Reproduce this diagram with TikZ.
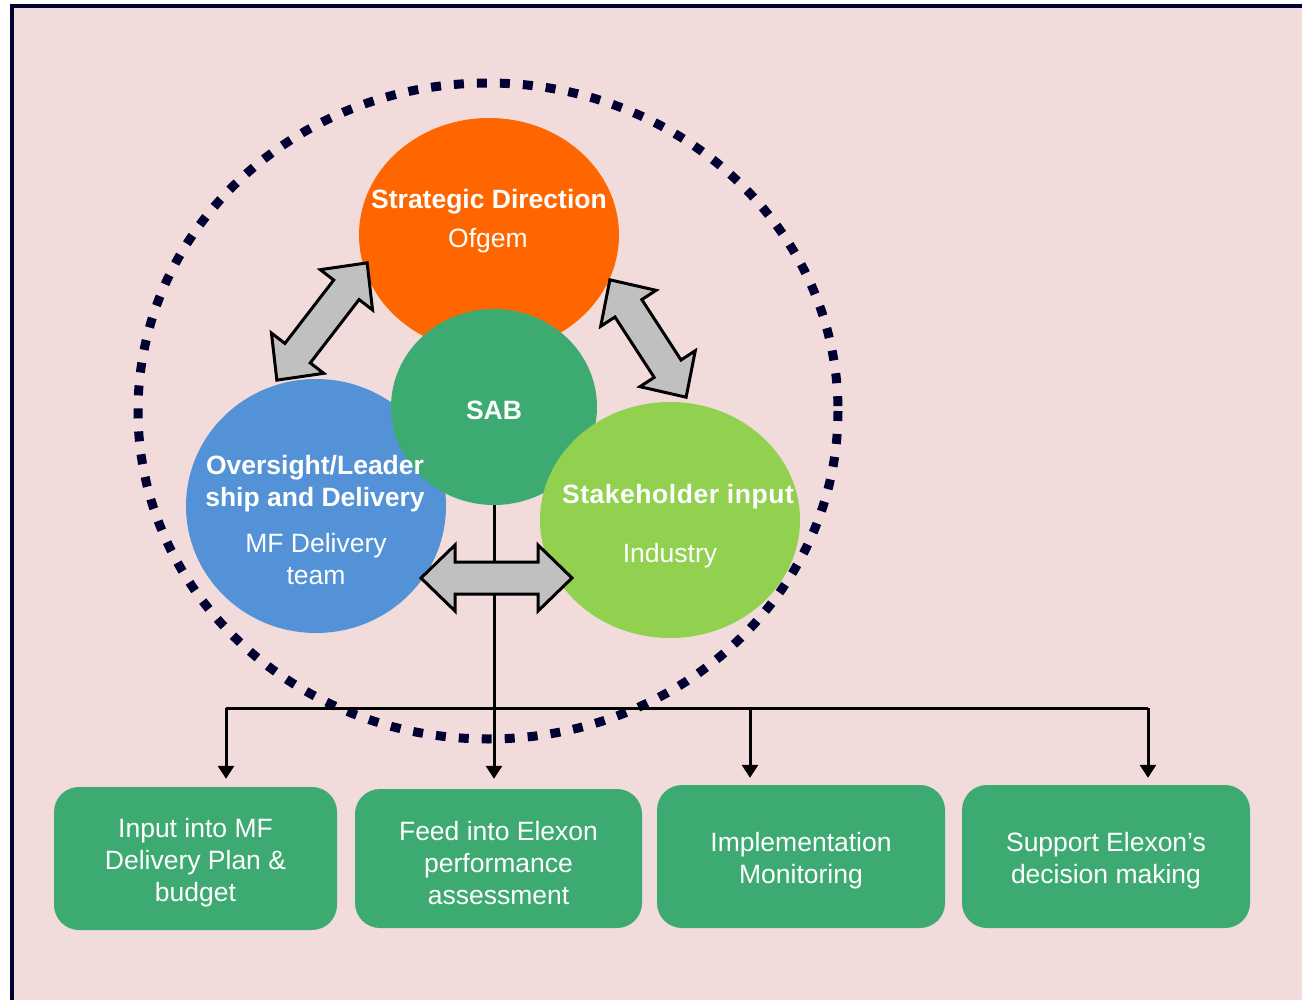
\documentclass[tikz,border=0pt]{standalone}
\usepackage{fontspec}
\setmainfont{Liberation Sans}
\usetikzlibrary{arrows.meta,shapes.geometric}
\definecolor{pinkbg}{RGB}{242,220,219}
\definecolor{navy}{RGB}{0,0,51}
\definecolor{orng}{RGB}{255,102,0}
\definecolor{sabgreen}{RGB}{60,170,113}
\definecolor{skyblue}{RGB}{83,146,214}
\definecolor{limegreen}{RGB}{146,208,80}
\definecolor{arrowgray}{RGB}{192,192,192}

\begin{document}
\begin{tikzpicture}[x=1pt,y=-1pt,
  blob/.style={ellipse, inner sep=0pt, draw=none},
  txt/.style={text=white, font=\fontsize{26.5}{32}\selectfont, align=center, inner sep=0pt},
  btxt/.style={text=white, font=\fontsize{26.5}{32}\selectfont\bfseries, align=center, inner sep=0pt},
  outcome/.style={rounded corners=25pt, fill=sabgreen, inner sep=0pt},
  outtxt/.style={txt, yshift=-4.5pt},
  link/.style={line width=3pt, draw=black},
  linkarrow/.style={link, -{Triangle[length=13pt,width=16pt]}},
  dblarrow/.pic={
    \draw[line width=3pt, fill=arrowgray, line join=miter, miter limit=10]
      (-#1,0) -- ({-#1+34},-33) -- ({-#1+34},-16) -- ({#1-34},-16)
      -- ({#1-34},-33) -- (#1,0) -- ({#1-34},33) -- ({#1-34},16)
      -- ({-#1+34},16) -- ({-#1+34},33) -- cycle;
  }
]
\useasboundingbox (0,0) rectangle (1302,1000);
\fill[white] (0,0) rectangle (1302,1000);
% framed pink panel
\draw[navy, line width=4pt, fill=pinkbg] (12,6) rectangle (1330,1030);

% dotted boundary of the governance circle
\draw[navy, line width=9pt, dash pattern=on 10pt off 13pt]
  (488,411) ellipse [x radius=350, y radius=328];

% circles
\node[blob, fill=orng, minimum width=260pt, minimum height=234pt] (ofgem) at (489,235) {};
\node[blob, fill=skyblue, minimum width=260pt, minimum height=254pt] (delivery) at (316,506) {};
\node[blob, fill=sabgreen, minimum width=206pt, minimum height=196pt] (sab) at (494,407) {};
\node[blob, fill=limegreen, minimum width=260pt, minimum height=236pt] (industry) at (670,520) {};

% circle labels
\node[btxt] (ofgemT) at (489,202) {Strategic Direction};
\node[txt] (ofgemS) at (488,241) {Ofgem};
\node[btxt] (sabT) at (494,410) {SAB};
\node[btxt] (delivT) at (315,484) {Oversight/Leader\\ship and Delivery};
\node[txt] (delivS) at (316,559) {MF Delivery\\team};
\node[btxt, font=\fontsize{26.5}{32}\selectfont\bfseries\addfontfeature{LetterSpace=2}] (indT) at (678,497) {Stakeholder input};
\node[txt] (indS) at (670,556) {Industry};

% outcome boxes
\node[outcome, minimum width=283pt, minimum height=143pt] (box1) at (195.5,858.5) {};
\node[outcome, minimum width=287pt, minimum height=139pt] (box2) at (498.5,858.5) {};
\node[outcome, minimum width=288pt, minimum height=143pt] (box3) at (801,856.5) {};
\node[outcome, minimum width=288pt, minimum height=143pt] (box4) at (1106,856.5) {};
\node[outtxt] (box1T) at (box1) {Input into MF\\Delivery Plan \&\\budget};
\node[outtxt] (box2T) at (box2) {Feed into Elexon\\performance\\assessment};
\node[outtxt] (box3T) at (box3) {Implementation\\Monitoring};
\node[outtxt] (box4T) at (box4) {Support Elexon’s\\decision making};

% connectors from SAB to the outcomes
\coordinate (busL) at (226,708);
\coordinate (busM) at (750,708);
\coordinate (busR) at (1148,708);
\draw[linkarrow, shorten >=10pt] (sab.south) -- (sab.south |- box2.north);
\draw[link] (busL) -- (busR);
\draw[linkarrow, shorten >=8pt] (busL) -- (busL |- box1.north);
\draw[linkarrow, shorten >=7pt] (busM) -- (busM |- box3.north);
\draw[linkarrow, shorten >=7pt] (busR) -- (busR |- box4.north);

% two-way exchange arrows between the circles
\pic[rotate=52.4] (exUL) at (322,321.5) {dblarrow=74};
\pic[rotate=-57] (exUR) at (648,338.5) {dblarrow=70};
\pic (exB) at (496.5,578) {dblarrow=75.5};
\end{tikzpicture}
\end{document}
